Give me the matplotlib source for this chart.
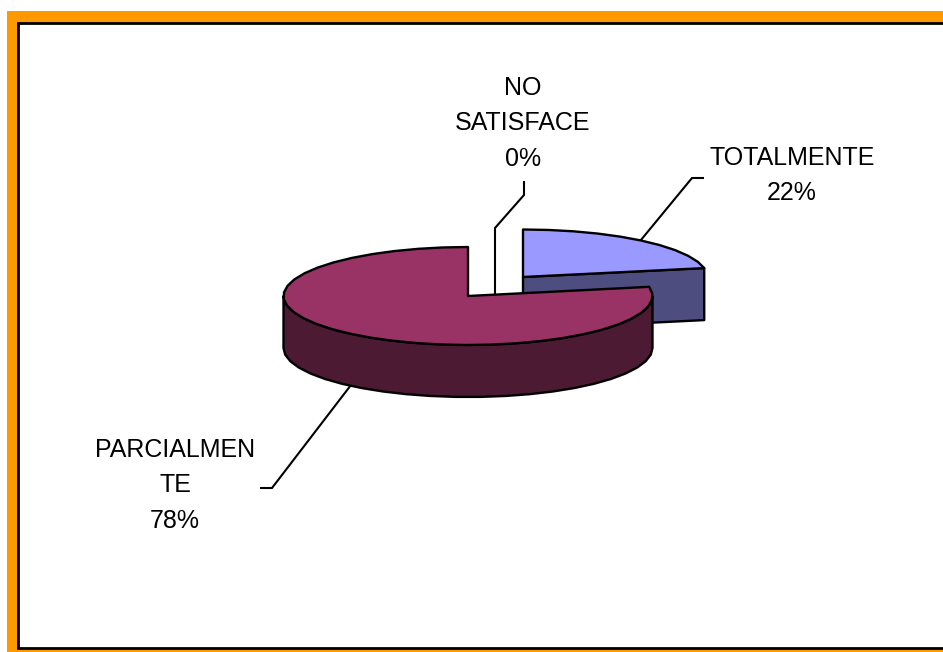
import numpy as np
import matplotlib
matplotlib.use("Agg")
import matplotlib.pyplot as plt
from matplotlib.patches import Polygon, Rectangle

categories = ["TOTALMENTE", "NO\nSATISFACE", "PARCIALMEN\nTE"]
values = [22, 0, 78]
order_labels = ["22%", "0%", "78%"]

ORANGE = "#FF9900"
BLUE, BLUE_SIDE = "#9999FF", "#4D4D80"
RED, RED_SIDE = "#993366", "#4D1A33"

plt.rcParams["font.family"] = ["Liberation Sans", "DejaVu Sans"]
fig = plt.figure(figsize=(9.43, 6.52), dpi=100, facecolor="white")
ax = fig.add_axes([0, 0, 1, 1])
ax.set_xlim(0, 943)
ax.set_ylim(652, 0)
ax.axis("off")

# frame
ax.add_patch(Rectangle((7, 11), 940, 645, fc=ORANGE, ec="none", zorder=0))
ax.add_patch(Rectangle((18, 22.5), 930, 625.5, fc="white", ec="black", lw=2.0, zorder=1))

RX, DEPTH = 184.5, 52
STEP = 8
LW = 1.7


def pt(c, deg, ry, dy=0):
    t = np.radians(deg)
    return (c[0] + RX * np.sin(t), c[1] - ry * np.cos(t) + dy)


def arc(c, a, b, ry, dy=0):
    n = max(2, int(abs(b - a) / STEP) + 2)
    return [pt(c, d, ry, dy) for d in np.linspace(a, b, n)]


def poly(pts, color, z):
    ax.add_patch(Polygon(pts, closed=True, fc=color, ec="black", lw=LW,
                         joinstyle="round", zorder=z))


total = sum(values)
a_blue = 360 * values[0] / total

c_blue = (523, 277)
c_red = (468, 296)
ry_blue, ry_red = 47.5, 49

# blue slice (exploded)
e = pt(c_blue, a_blue, ry_blue)
poly([c_blue, e, (e[0], e[1] + DEPTH), (c_blue[0], c_blue[1] + DEPTH)], BLUE_SIDE, 3)
poly([c_blue] + arc(c_blue, 0, a_blue, ry_blue), BLUE, 4)

# red slice
poly(arc(c_red, 90, 270, ry_red) + arc(c_red, 270, 90, ry_red, DEPTH), RED_SIDE, 5)
poly([c_red] + arc(c_red, a_blue, 360, ry_red), RED, 6)


# leader lines
def leader(xs, ys):
    ax.plot(xs, ys, color="black", lw=1.5, solid_capstyle="butt", solid_joinstyle="miter", zorder=2)


mid_blue = pt(c_blue, a_blue / 2, ry_blue)
leader([mid_blue[0], 692, 704], [mid_blue[1], 178, 178])
leader([495, 495, 524, 524], [296, 228, 195, 181])
mid_red = pt(c_red, a_blue + (360 - a_blue) / 2, ry_red, DEPTH)
leader([mid_red[0], 272, 260], [mid_red[1], 488, 488])

# labels
fs = 18.0


def label(x, y, cat, pct):
    ax.text(x, y, cat + "\n" + pct, ha="center", va="center", fontsize=fs,
            color="black", linespacing=1.6, zorder=8)


label(792, 175.5, categories[0], order_labels[0])
label(523, 123.5, categories[1], order_labels[1])
label(175, 485.5, categories[2], order_labels[2])

fig.savefig("out.png", dpi=100, facecolor="white")
